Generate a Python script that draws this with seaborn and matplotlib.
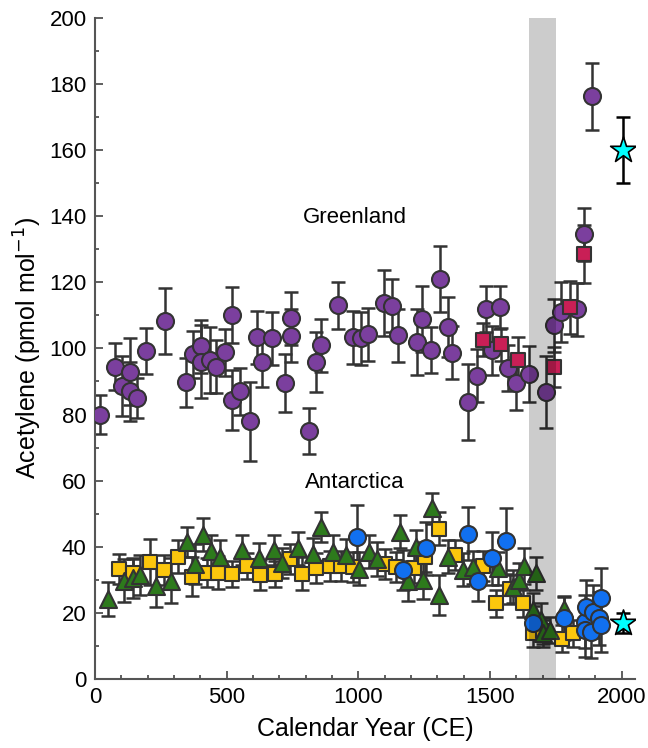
import matplotlib
matplotlib.use('Agg')
import matplotlib.pyplot as plt
import seaborn as sns
import pandas as pd

# Greenland ice core (circles) -- year, acetylene, error
gl_year = [19, 76, 101, 133, 133, 158, 192, 264, 345, 371, 401, 401, 436, 459, 493, 519, 521,
           550, 588, 614, 636, 674, 720, 743, 743, 813, 839, 858, 922, 980, 1012, 1038, 1098,
           1129, 1152, 1224, 1243, 1276, 1309, 1340, 1357, 1417, 1449, 1484, 1509, 1540, 1569,
           1600, 1648, 1714, 1743, 1768, 1832, 1856, 1889]
gl_val = [80, 94.5, 88.7, 93, 87, 85, 99.3, 108.4, 89.7, 98.2, 100.6, 96, 96.5, 94.5, 98.8, 110,
          84.4, 87, 77.9, 103.4, 95.8, 103, 89.6, 109.1, 103.8, 75, 95.9, 101, 113, 103.4, 103,
          104.3, 113.8, 112.9, 104, 101.9, 109, 99.5, 121, 106.5, 98.7, 83.7, 91.8, 111.9, 99.4,
          112.4, 94, 89.5, 92.3, 86.8, 107, 111, 111.9, 134.5, 176.2]
gl_err = [6, 7, 9, 10, 9, 6, 7, 10, 7.5, 7, 8, 11, 10, 8, 7, 8.5, 9, 7, 12, 8, 7.5, 8, 8.7, 8, 8,
          7, 9, 8, 7, 8, 8, 8, 10, 8, 8, 10, 10, 7, 10, 9, 8, 11.5, 8, 7, 7.5, 6.5, 7, 8, 8.5,
          10.8, 8, 9, 8, 8, 10]

# Greenland second core (squares)
gl2_year = [1474, 1541, 1608, 1742, 1805, 1858]
gl2_val = [102.6, 101.3, 96.5, 94.3, 112.4, 128.5]
gl2_err = [5, 5, 7, 6, 8, 8.7]

# Antarctica squares
an_sq_year = [92, 145, 209, 263, 316, 367, 424, 468, 522, 578, 626, 683, 740, 787, 841, 892, 936,
              980, 1101, 1145, 1211, 1252, 1307, 1366, 1474, 1522, 1575, 1625, 1663, 1700, 1775, 1815]
an_sq_val = [33.2, 32.2, 35.3, 33, 37, 31, 32.2, 32.2, 31.7, 34.2, 31.5, 31.8, 36.2, 31.8, 33.5,
             34.3, 34.2, 33.8, 34.8, 33.8, 33.5, 36.8, 45.5, 37.5, 34.2, 22.9, 27.1, 22.9, 13.8,
             14.5, 12.2, 13.8]
an_sq_err = [4.5, 4, 7, 4.5, 5, 6, 4.5, 5, 4, 4, 4.5, 4, 4.5, 5, 4.5, 4.5, 4.5, 4.5, 4.5, 4.5,
             4.5, 4.5, 5, 4.5, 4.5, 4, 4.5, 4, 4, 4, 4, 4]

# Antarctica triangles
an_tr_year = [50, 111, 145, 171, 230, 290, 348, 381, 411, 441, 474, 560, 622, 679, 712, 772, 829,
              858, 905, 953, 1003, 1041, 1071, 1157, 1189, 1218, 1246, 1280, 1307, 1341, 1398,
              1436, 1531, 1587, 1610, 1628, 1663, 1674, 1695, 1701, 1727, 1780]
an_tr_val = [24.2, 29.7, 30.6, 31.5, 28.2, 29.8, 41.5, 34.7, 43.6, 38.7, 37, 39, 36.7, 39, 35,
             39.5, 37.8, 45.9, 38.5, 37.5, 33.3, 38.5, 36.3, 44.6, 29.7, 40, 30.1, 51.6, 25.4, 37,
             33, 33.8, 33.5, 27.9, 30, 34.2, 20.9, 32, 17.9, 13.8, 14.8, 21.1]
an_tr_err = [5, 6.5, 6, 6, 6.5, 6.8, 4.5, 6, 5, 5, 5, 4.5, 4.5, 4.5, 4.5, 5, 5, 4.5, 5, 5, 5, 5,
             5, 5, 6, 5, 6, 4.8, 6, 5, 5, 5, 5, 5, 5, 5.5, 5, 5, 5, 4, 4, 4]

# Antarctica circles
an_ci_year = [994, 1170, 1256, 1417, 1455, 1509, 1560, 1663, 1780, 1860, 1860, 1866, 1885, 1891,
              1914, 1923, 1923]
an_ci_val = [42.9, 33, 39.5, 44, 29.7, 36.5, 41.8, 17, 18.4, 17.3, 14.8, 21.9, 14.3, 20.4, 18.4,
             24.6, 16.3]
an_ci_err = [9.7, 6, 8, 8, 6, 8, 10, 5, 6.5, 8, 8, 8, 8, 8, 8, 9, 8]

# modern atmosphere (stars)
star_year = [2006, 2006]
star_val = [160, 17]
star_err = [10, 3]

sns.set_style('ticks')
plt.rcParams['font.family'] = ['Liberation Sans', 'DejaVu Sans']
plt.rcParams['text.color'] = 'black'
plt.rcParams['axes.labelcolor'] = 'black'

fig = plt.figure(figsize=(6.48, 7.48), dpi=100)
ax = fig.add_axes([0.1466, 0.0922, 0.833, 0.884])

edge = '#333333'
series = [
    (gl_year, gl_val, gl_err, '#7b3f9e', 'o', 150),
    (gl2_year, gl2_val, gl2_err, '#c91f56', 's', 95),
    (an_sq_year, an_sq_val, an_sq_err, '#fcc70d', 's', 95),
    (an_tr_year, an_tr_val, an_tr_err, '#2d7a1c', '^', 150),
    (an_ci_year, an_ci_val, an_ci_err, '#1170f0', 'o', 150),
]
for yr, val, err, col, mk, sz in series:
    df = pd.DataFrame({'year': yr, 'val': val, 'err': err})
    ax.errorbar(df['year'], df['val'], yerr=df['err'], fmt='none', ecolor=edge,
                elinewidth=1.8, capsize=5, capthick=1.8, zorder=2)
    sns.scatterplot(data=df, x='year', y='val', marker=mk, s=sz, color=col,
                    edgecolor=edge, linewidth=1.5, ax=ax, zorder=3)

stars = pd.DataFrame({'year': star_year, 'val': star_val, 'err': star_err})
ax.errorbar(stars['year'], stars['val'], yerr=stars['err'], fmt='none', ecolor='black',
            elinewidth=1.8, capsize=5, capthick=1.8, zorder=4)
sns.scatterplot(data=stars, x='year', y='val', marker='*', s=380, color='#00ffff',
                edgecolor='black', linewidth=1.2, ax=ax, zorder=5)

# shaded period
ax.axvspan(1650, 1750, color='black', alpha=0.2, lw=0, zorder=6)

ax.text(987, 139.5, 'Greenland', fontsize=16, ha='center', va='center')
ax.text(987, 59.5, 'Antarctica', fontsize=16, ha='center', va='center')

ax.set_xlim(0, 2050)
ax.set_ylim(0, 200)
ax.set_xticks([0, 500, 1000, 1500, 2000])
ax.set_xticks(range(0, 2050, 100), minor=True)
ax.set_yticks(range(0, 201, 20))
ax.set_yticks(range(0, 201, 10), minor=True)
ax.tick_params(which='both', direction='in', labelsize=16, color='#444444', width=1.2,
               labelcolor='black')
ax.tick_params(which='major', length=6, pad=6)
ax.tick_params(which='minor', length=3)
sns.despine(ax=ax)
for s in ['left', 'bottom']:
    ax.spines[s].set_color('#555555')
    ax.spines[s].set_linewidth(1.5)

ax.set_xlabel('Calendar Year (CE)', fontsize=18, labelpad=6)
ax.set_ylabel('Acetylene (pmol mol$^{-1}$)', fontsize=18, labelpad=4)

plt.savefig('out.png', dpi=100)
